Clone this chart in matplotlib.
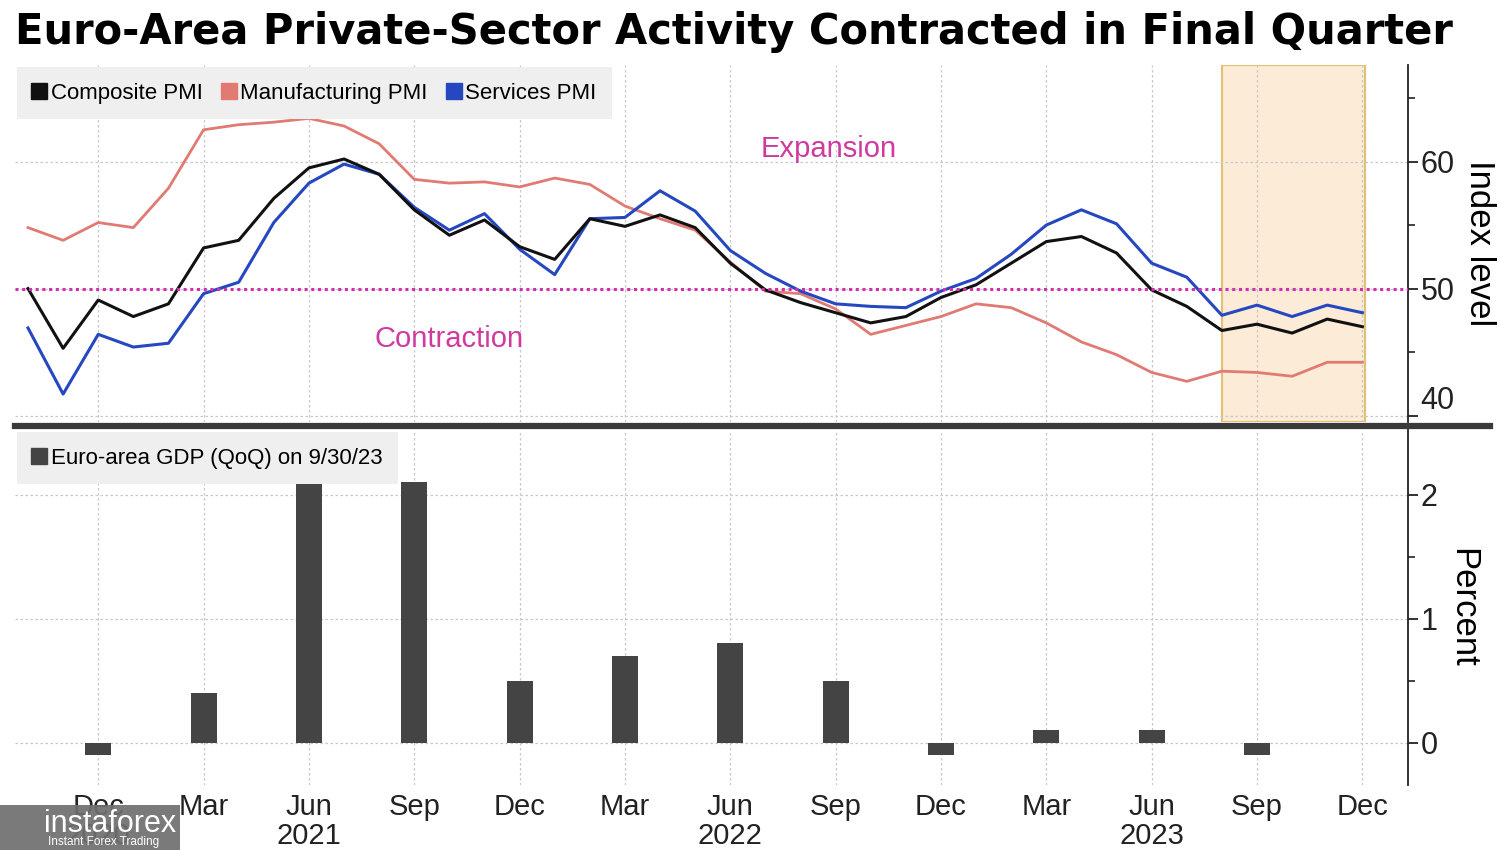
import matplotlib
matplotlib.use('Agg')
import matplotlib.pyplot as plt
import numpy as np
import pandas as pd
from matplotlib.lines import Line2D
from matplotlib.patches import Rectangle

plt.rcParams['font.family'] = ['Liberation Sans', 'DejaVu Sans']

# monthly PMI readings, Oct 2020 .. Dec 2023
months = pd.period_range('2020-10', '2023-12', freq='M')
composite = [50.0, 45.3, 49.1, 47.8, 48.8, 53.2, 53.8, 57.1, 59.5, 60.2, 59.0, 56.2,
             54.2, 55.4, 53.3, 52.3, 55.5, 54.9, 55.8, 54.8, 52.0, 49.9, 48.9, 48.1,
             47.3, 47.8, 49.3, 50.3, 52.0, 53.7, 54.1, 52.8, 49.9, 48.6, 46.7, 47.2,
             46.5, 47.6, 47.0]
manufacturing = [54.8, 53.8, 55.2, 54.8, 57.9, 62.5, 62.9, 63.1, 63.4, 62.8, 61.4, 58.6,
                 58.3, 58.4, 58.0, 58.7, 58.2, 56.5, 55.5, 54.6, 52.1, 49.8, 49.6, 48.4,
                 46.4, 47.1, 47.8, 48.8, 48.5, 47.3, 45.8, 44.8, 43.4, 42.7, 43.5, 43.4,
                 43.1, 44.2, 44.2]
services = [46.9, 41.7, 46.4, 45.4, 45.7, 49.6, 50.5, 55.2, 58.3, 59.8, 59.0, 56.4,
            54.6, 55.9, 53.1, 51.1, 55.5, 55.6, 57.7, 56.1, 53.0, 51.2, 49.8, 48.8,
            48.6, 48.5, 49.8, 50.8, 52.7, 55.0, 56.2, 55.1, 52.0, 50.9, 47.9, 48.7,
            47.8, 48.7, 48.1]

# quarterly GDP (QoQ %), Dec 2020 .. Sep 2023
gdp_quarters = ['2020-12', '2021-03', '2021-06', '2021-09', '2021-12', '2022-03',
                '2022-06', '2022-09', '2022-12', '2023-03', '2023-06', '2023-09']
gdp = [-0.1, 0.4, 2.1, 2.1, 0.5, 0.7, 0.8, 0.5, -0.1, 0.1, 0.1, -0.1]

shade_from, shade_to = '2023-08', '2023-12'

x = np.arange(len(months))
idx = {str(p): i for i, p in enumerate(months)}
gdp_x = [idx[q] for q in gdp_quarters]

tick_x = [i for i, p in enumerate(months) if p.month in (3, 6, 9, 12)]
tick_lbl = []
for i in tick_x:
    p = months[i]
    lbl = p.strftime('%b')
    if p.month == 6 or i == tick_x[0]:
        lbl += '\n' + str(p.year)
    tick_lbl.append(lbl)

W, H = 1500, 850
fig = plt.figure(figsize=(15, 8.5), dpi=100)


def box(x0, y0, x1, y1):
    return [x0 / W, 1 - y1 / H, (x1 - x0) / W, (y1 - y0) / H]


grid_kw = dict(color='#c8c8c8', linestyle=(0, (2, 2)), linewidth=0.9)
tick_color = '#222222'
pink = '#d03aa0'

ax1 = fig.add_axes(box(15, 65, 1408, 422))
ax2 = fig.add_axes(box(15, 430, 1408, 785), sharex=ax1)

# --- top panel ---
ax1.axvspan(idx[shade_from], idx[shade_to] + 0.08, facecolor='#fcebd6',
            edgecolor='#e3bf73', linewidth=1.5, zorder=0)
ax1.plot(x, manufacturing, color='#e07a72', lw=2.0, zorder=3)
ax1.plot(x, services, color='#2547c0', lw=2.2, zorder=4)
ax1.plot(x, composite, color='#111111', lw=2.2, zorder=5)
ax1.axhline(50, color='#d22fb0', lw=2.2, linestyle=(0, (1, 1.2)), zorder=6)

ax1.text(22.8, 61.0, 'Expansion', color=pink, fontsize=21, ha='center', va='center')
ax1.text(12.0, 46.0, 'Contraction', color=pink, fontsize=21, ha='center', va='center')

ax1.set_ylim(39.5, 67.6)
ax1.set_yticks([40, 50, 60])
ax1.set_yticks([45, 55, 65], minor=True)
ax1.grid(axis='both', which='major', **grid_kw)
ax1.set_axisbelow(True)

handles = [Line2D([], [], marker='s', ls='', color=c, markersize=11)
           for c in ['#111111', '#e07a72', '#2547c0']]
leg = ax1.legend(handles, ['Composite PMI', 'Manufacturing PMI', 'Services PMI'],
                 loc='upper left', bbox_to_anchor=(0, 1.0), ncol=3, fontsize=16,
                 frameon=True, fancybox=False, handlelength=0.6, handletextpad=0.2,
                 columnspacing=0.9, borderpad=0.7, borderaxespad=0.1)
leg.get_frame().set_facecolor('#efefef')
leg.get_frame().set_edgecolor('none')
leg.get_frame().set_alpha(1)

ax1.set_ylabel('Index level', fontsize=25, rotation=270, labelpad=30)
ax1.yaxis.set_label_position('right')

# --- bottom panel ---
ax2.bar(gdp_x, gdp, width=0.74, color='#444444', zorder=3)
ax2.set_ylim(-0.34, 2.52)
ax2.set_yticks([0, 1, 2])
ax2.set_yticks([0.5, 1.5], minor=True)
ax2.grid(axis='both', which='major', **grid_kw)
ax2.set_axisbelow(True)

leg2 = ax2.legend([Line2D([], [], marker='s', ls='', color='#444444', markersize=11)],
                  ['Euro-area GDP (QoQ) on 9/30/23'], loc='upper left',
                  bbox_to_anchor=(0, 1.0), fontsize=16, frameon=True, fancybox=False,
                  handlelength=0.6, handletextpad=0.2, borderpad=0.7, borderaxespad=0.1)
leg2.get_frame().set_facecolor('#efefef')
leg2.get_frame().set_edgecolor('none')
leg2.get_frame().set_alpha(1)

ax2.set_ylabel('Percent', fontsize=25, rotation=270, labelpad=30)
ax2.yaxis.set_label_position('right')

ax2.set_xlim(-0.37, 39.3)
ax2.set_xticks(tick_x)
ax2.set_xticklabels(tick_lbl, fontsize=21, color=tick_color, linespacing=1.05)
ax2.tick_params(axis='x', length=0, pad=6)

for ax in (ax1, ax2):
    ax.yaxis.tick_right()
    for s in ('left', 'top', 'bottom'):
        ax.spines[s].set_visible(False)
    ax.spines['right'].set_color('#222222')
    ax.spines['right'].set_linewidth(1.3)
    ax.tick_params(axis='y', which='major', length=7, width=1.3, labelsize=22,
                   colors=tick_color, pad=2)
    ax.tick_params(axis='y', which='minor', length=5, width=1.2, colors=tick_color)
    ax.patch.set_alpha(0)
plt.setp(ax1.get_xticklabels(), visible=False)
ax1.tick_params(axis='x', length=0)
# lowest top-panel label sits above the separator
ax1.get_yticklabels()[0].set_va('bottom')

# separator between panels
fig.add_artist(Line2D([15 / W, 1490 / W], [1 - 426 / H, 1 - 426 / H], color='#3a3a3a',
                      lw=4.5))

fig.text(15 / W, 1 - 32 / H, 'Euro-Area Private-Sector Activity Contracted in Final Quarter',
         fontsize=30, fontweight='bold', family='DejaVu Sans', ha='left', va='center')

# watermark
fig.add_artist(Rectangle((0, 0), 180 / W, 45 / H, transform=fig.transFigure,
                         facecolor='#6f6f6f', edgecolor='none', alpha=0.92, zorder=10))
fig.text(44 / W, 1 - 824 / H, 'instaforex', color='white', fontsize=22, ha='left',
         va='center', zorder=11)
fig.text(48 / W, 1 - 842 / H, 'Instant Forex Trading', color='white', fontsize=8.5,
         ha='left', va='center', zorder=11)

fig.savefig('out.png', dpi=100)
